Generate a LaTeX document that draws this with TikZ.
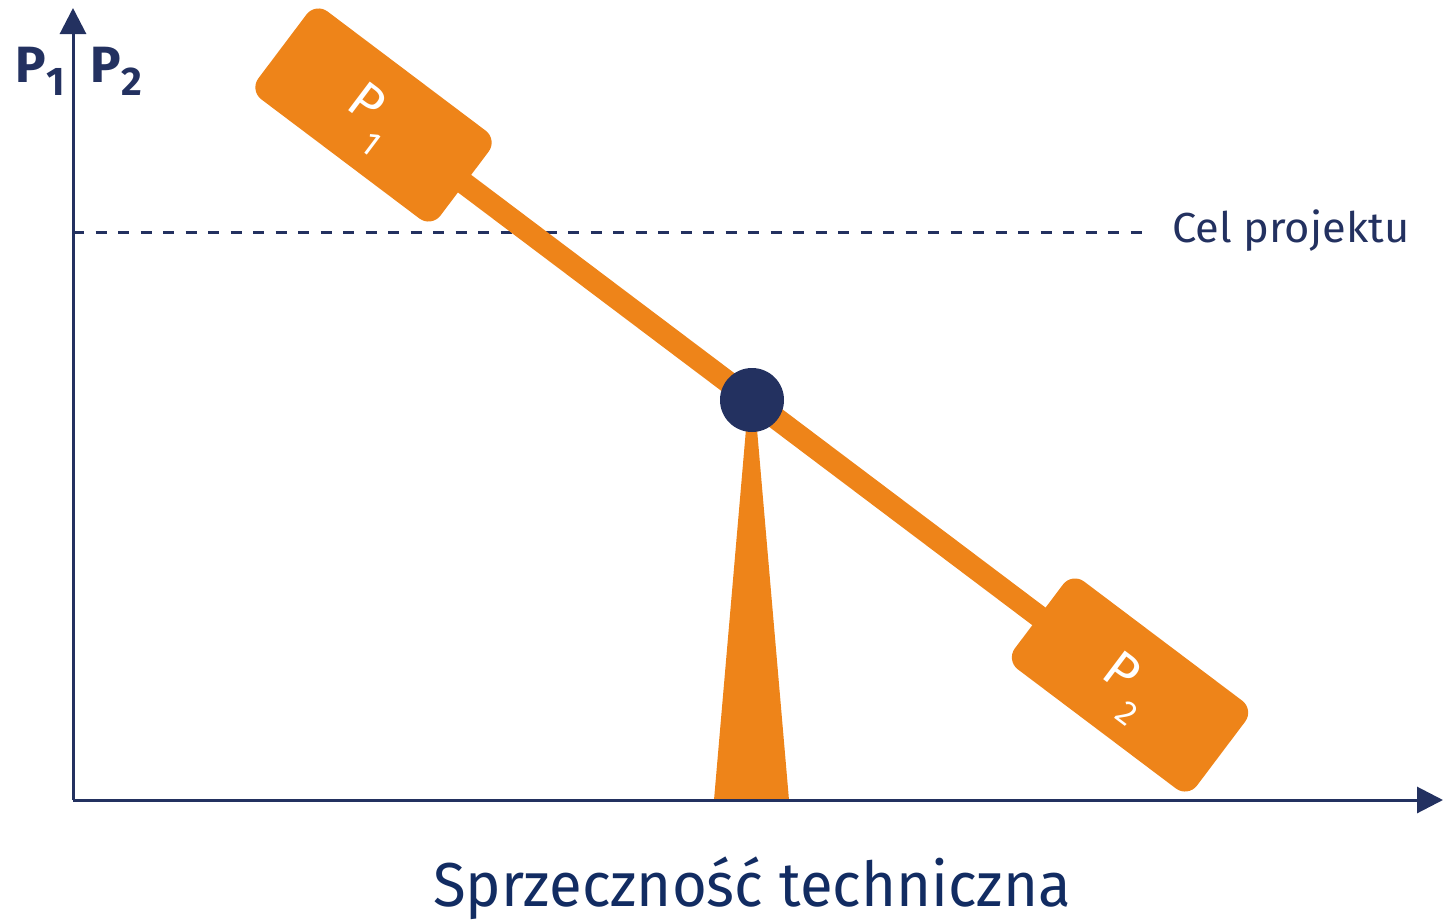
\documentclass[tikz,border=0pt]{standalone}
\usepackage{fontspec}
\setmainfont{Fira Sans}
\IfFontExistsTF{FiraSans-Light.otf}{\newfontfamily\wfont{FiraSans-Light.otf}}{\newfontfamily\wfont{Fira Sans}}
\usetikzlibrary{arrows.meta}
\definecolor{navy}{HTML}{233160}
\definecolor{navytext}{HTML}{122C62}
\definecolor{orng}{HTML}{EE8419}
\begin{document}
\begin{tikzpicture}[x=1pt,y=-1pt,
  axis/.style={line width=3pt, draw=navy, -{Triangle[length=26pt,width=26pt]}},
  goal/.style={line width=3pt, draw=navy, dash pattern=on 11pt off 11.5pt},
  beam/.style={line width=22pt, draw=orng},
  weight/.style={fill=orng, rounded corners=15pt, minimum width=228pt, minimum height=110pt, rotate=-37, inner sep=0pt, text=white, font=\wfont\fontsize{52}{52}\selectfont},
  pivot/.style={circle, fill=navy, minimum size=64pt, inner sep=0pt},
  stand/.style={fill=orng},
  lbl/.style={text=navy, inner sep=0pt}]
\useasboundingbox (0,0) rectangle (1443,921);
\coordinate (O) at (73,800);
\coordinate (ytip) at (73,8);
\coordinate (xtip) at (1443,800);
\coordinate (gstart) at (73,232);
\coordinate (gend) at (1150,232);
\coordinate (c1) at (373.5,115);
\coordinate (c2) at (1130,685);
\coordinate (t1) at (368,118);
\coordinate (t2) at (1124,688);
\coordinate (st1) at (748.5,400);
\coordinate (st2) at (754.5,400);
\coordinate (st3) at (789,800);
\coordinate (st4) at (714,800);
% goal line
\draw[goal] (gstart) -- (gend);
% stand
\fill[stand] (st1) -- (st2) -- (st3) -- (st4) -- cycle;
% beam
\draw[beam] (c1) -- (c2);
% weights
\node[weight] (w1) at (c1) {};
\node[weight] (w2) at (c2) {};
\node[text=white, rotate=-37, inner sep=0pt, font=\wfont\fontsize{52}{52}\selectfont] (w1txt) at (t1) {P\kern6pt\raisebox{-24pt}{\fontsize{34}{34}\selectfont 1}};
\node[text=white, rotate=-37, inner sep=0pt, font=\wfont\fontsize{52}{52}\selectfont] (w2txt) at (t2) {P\kern6pt\raisebox{-24pt}{\fontsize{34}{34}\selectfont 2}};
% pivot
\node[pivot] (pv) at (752,400) {};
% axes
\draw[axis] (O) -- (ytip);
\draw[axis] (O) -- (xtip);
% labels
\node[lbl, anchor=base west, font=\fontsize{42}{42}\selectfont] (goaltxt) at (1172,242) {\scalebox{1.035}[1]{Cel projektu}};
\node[lbl, text=navytext, anchor=base west, font=\fontsize{62}{62}\selectfont] (xlbl) at (433,906) {\scalebox{0.965}[1]{Sprzeczność techniczna}};
\node[lbl, anchor=base west, font=\fontsize{51}{51}\selectfont\bfseries] (p1lbl) at (15,82) {P\kern1pt\raisebox{-13pt}{\fontsize{40}{40}\selectfont 1}};
\node[lbl, anchor=base west, font=\fontsize{51}{51}\selectfont\bfseries] (p2lbl) at (90,82) {P\kern1pt\raisebox{-13pt}{\fontsize{40}{40}\selectfont 2}};
\end{tikzpicture}
\end{document}
